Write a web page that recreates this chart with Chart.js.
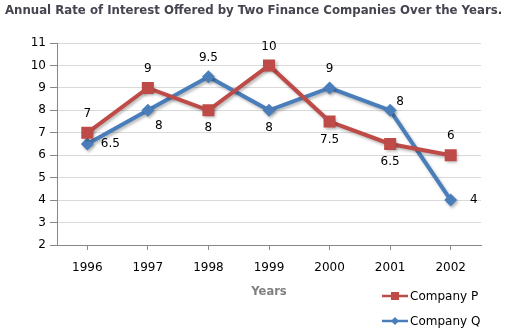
<!DOCTYPE html>
<html lang="en">
<head>
    <meta charset="UTF-8">
    <title>Annual Rate of Interest</title>
    <script src="https://cdn.jsdelivr.net/npm/chart.js"></script>
    <style>
        body { margin: 0; background: #fff; }
        #wrap { width: 509px; height: 330px; }
    </style>
</head>
<body>
    <div id="wrap"><canvas id="chart" width="509" height="330"></canvas></div>
    <script>
        // Data
        const years = ['1996', '1997', '1998', '1999', '2000', '2001', '2002'];
        const companyP = [7, 9, 8, 10, 7.5, 6.5, 6];
        const companyQ = [6.5, 8, 9.5, 8, 9, 8, 4];
        const seriesNames = ['Company P', 'Company Q'];
        const yTicks = [2, 3, 4, 5, 6, 7, 8, 9, 10, 11];

        // where each value label sits relative to its point
        const placeP = ['above', 'above', 'below', 'above', 'below', 'below', 'above'];
        const placeQ = ['right', 'belowRight', 'above', 'below', 'above', 'aboveRight', 'right'];

        const FONT = '"DejaVu Sans", Verdana, sans-serif';
        const offsets = {
            above: [0, -19],
            below: [0, 18],
            right: [23, 0],
            belowRight: [11, 16],
            aboveRight: [10, -8]
        };

        // Titre + étiquettes de valeurs + légende
        const decorations = {
            id: 'decorations',
            beforeDatasetsDraw(chart) {
                const ctx = chart.ctx;
                ctx.save();
                ctx.shadowColor = 'rgba(0,0,0,0.28)';
                ctx.shadowOffsetX = 1.5;
                ctx.shadowOffsetY = 2;
                ctx.shadowBlur = 3;
            },
            afterDatasetsDraw(chart) {
                const ctx = chart.ctx;
                ctx.restore();
                ctx.save();
                ctx.font = '12px ' + FONT;
                ctx.fillStyle = '#000';
                ctx.textAlign = 'center';
                ctx.textBaseline = 'middle';
                const places = [placeP, placeQ];
                chart.data.datasets.forEach((ds, i) => {
                    chart.getDatasetMeta(i).data.forEach((pt, j) => {
                        const o = offsets[places[i][j]];
                        ctx.fillText(String(ds.data[j]), pt.x + o[0], pt.y + o[1]);
                    });
                });
                ctx.restore();
            },
            afterDraw(chart) {
                const ctx = chart.ctx;
                ctx.save();
                // titre
                const title = 'Annual Rate of Interest Offered by Two Finance Companies Over the Years.';
                ctx.font = 'bold 12px ' + FONT;
                const w = ctx.measureText(title).width;
                const size = Math.min(12, 12 * 497 / w);
                ctx.font = 'bold ' + size.toFixed(2) + 'px ' + FONT;
                ctx.fillStyle = '#454550';
                ctx.textBaseline = 'middle';
                ctx.textAlign = 'left';
                ctx.fillText(title, 5, 11);

                // légende
                chart.data.datasets.forEach((ds, i) => {
                    const y = 296 + i * 25;
                    ctx.strokeStyle = ds.borderColor;
                    ctx.lineWidth = 2.5;
                    ctx.beginPath();
                    ctx.moveTo(382, y);
                    ctx.lineTo(408, y);
                    ctx.stroke();
                    ctx.fillStyle = ds.backgroundColor;
                    ctx.beginPath();
                    if (ds.pointStyle === 'rect') {
                        ctx.rect(391, y - 4, 8, 8);
                    } else {
                        ctx.moveTo(395, y - 4);
                        ctx.lineTo(399, y);
                        ctx.lineTo(395, y + 4);
                        ctx.lineTo(391, y);
                        ctx.closePath();
                    }
                    ctx.fill();
                    ctx.fillStyle = '#000';
                    ctx.font = '12px ' + FONT;
                    ctx.fillText(ds.label, 410, y + 1);
                });
                ctx.restore();
            }
        };

        const ctx = document.getElementById('chart').getContext('2d');
        new Chart(ctx, {
            type: 'line',
            data: {
                labels: years,
                datasets: [{
                    label: seriesNames[0],
                    data: companyP,
                    borderColor: '#BE4B48',
                    backgroundColor: '#BE4B48',
                    borderWidth: 4,
                    pointStyle: 'rect',
                    pointRadius: 8.5,
                    pointHoverRadius: 8.5,
                    pointBorderWidth: 0,
                    tension: 0
                }, {
                    label: seriesNames[1],
                    data: companyQ,
                    borderColor: '#4A7EBB',
                    backgroundColor: '#4A7EBB',
                    borderWidth: 4,
                    pointStyle: 'rectRot',
                    pointRadius: 6.5,
                    pointHoverRadius: 6.5,
                    pointBorderWidth: 0,
                    tension: 0
                }]
            },
            options: {
                responsive: false,
                animation: false,
                layout: { padding: { top: 43, right: 28, bottom: 0, left: 0 } },
                plugins: {
                    legend: { display: false },
                    tooltip: { enabled: false }
                },
                scales: {
                    x: {
                        offset: true,
                        grid: {
                            offset: false,
                            drawOnChartArea: false,
                            drawTicks: true,
                            tickLength: 5,
                            color: '#888'
                        },
                        border: { color: '#888' },
                        ticks: {
                            color: '#000',
                            padding: 11,
                            font: { family: FONT, size: 12 }
                        },
                        title: {
                            display: true,
                            text: 'Years',
                            color: '#808080',
                            font: { family: FONT, size: 11.5, weight: 'bold' },
                            padding: { top: 0, bottom: 31 }
                        },
                        afterFit: s => { s.height = 85; }
                    },
                    y: {
                        min: 2,
                        max: 11,
                        afterBuildTicks: s => { s.ticks = yTicks.map(v => ({ value: v })); },
                        grid: {
                            color: '#d9d9d9',
                            tickColor: '#888',
                            tickLength: 7
                        },
                        border: { color: '#888' },
                        ticks: {
                            color: '#000',
                            padding: 4,
                            font: { family: FONT, size: 12 }
                        },
                        afterFit: s => { s.width = 57; }
                    }
                }
            },
            plugins: [decorations]
        });
    </script>
</body>
</html>
